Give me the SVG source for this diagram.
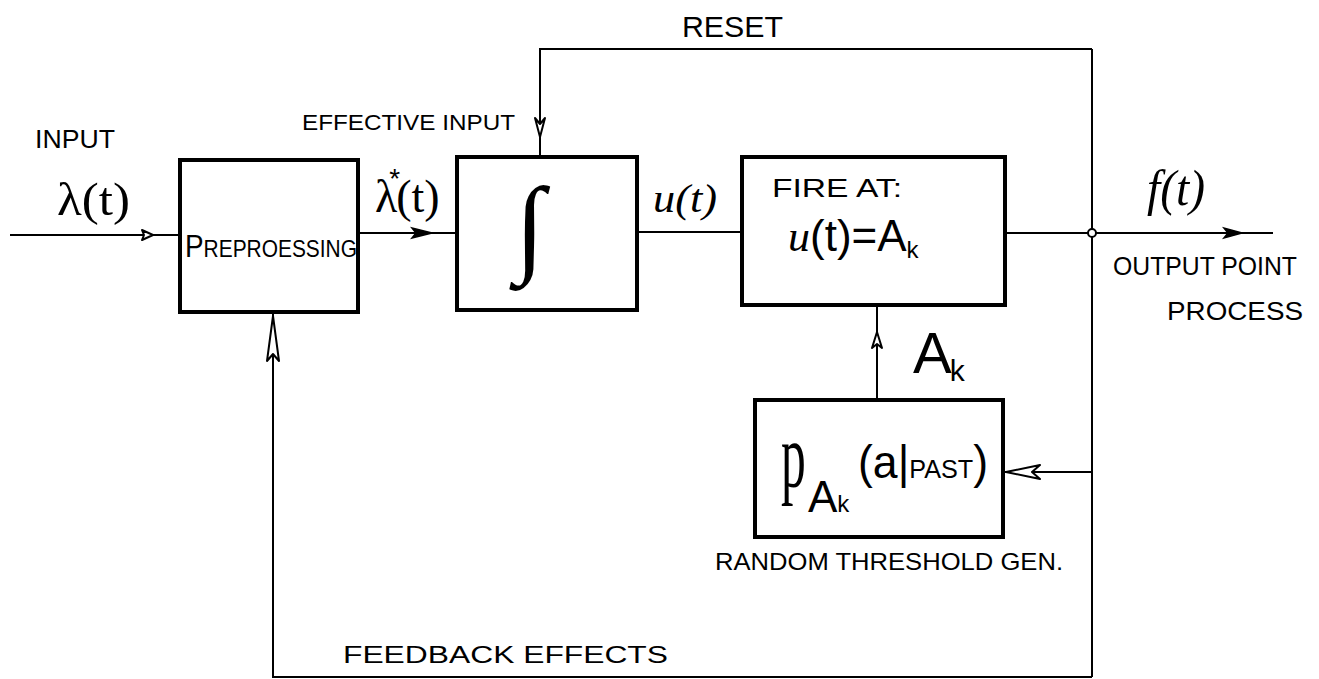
<svg xmlns="http://www.w3.org/2000/svg" width="1319" height="679" viewBox="0 0 1319 679">
<style>
.box{fill:none;stroke:#000;stroke-width:4}
.ln{fill:none;stroke:#000;stroke-width:2}
.ah{fill:#fff;stroke:#000;stroke-width:2;stroke-linejoin:round}
.ahf{fill:#000;stroke:#000;stroke-width:1.5}
text{font-family:"Liberation Sans","DejaVu Sans",sans-serif;fill:#000}
.math{font-family:"Liberation Serif","DejaVu Serif",serif}
.it{font-family:"Liberation Serif","DejaVu Serif",serif;font-style:italic}
.sans{font-family:"Liberation Sans","DejaVu Sans",sans-serif}
</style>
<rect width="1319" height="679" fill="#fff"/>

<g id="connectors">
  <line class="ln" x1="10" y1="235" x2="180" y2="235"/>
  <polygon class="ah" points="153,235 142,230 144,235 142,240"/>
  <line class="ln" x1="358" y1="233" x2="457" y2="233"/>
  <polygon class="ahf" points="432,233 412,228 416,233 412,238"/>
  <line class="ln" x1="637" y1="232" x2="742" y2="232"/>
  <line class="ln" x1="1005" y1="233" x2="1092" y2="233"/>
  <line class="ln" x1="1092" y1="233" x2="1273" y2="233"/>
  <polygon class="ahf" points="1242,233 1224,228 1228,233 1224,238"/>
  <line class="ln" x1="1092" y1="49" x2="1092" y2="677"/>
  <polyline class="ln" points="1092,49 540,49 540,157"/>
  <polygon class="ah" points="540,137 535,118 540,124 545,118"/>
  <polyline class="ln" points="1092,677 273,677 273,312"/>
  <polygon class="ah" points="273,316 267,361 273,354 279,361"/>
  <line class="ln" x1="1092" y1="472" x2="1003" y2="472"/>
  <polygon class="ah" points="1006,472 1040,465 1032,472 1040,479"/>
  <line class="ln" x1="877" y1="400" x2="877" y2="305"/>
  <polygon class="ah" points="877,332 872,348 877,344 882,348"/>
  <circle cx="1092" cy="233" r="4" fill="#fff" stroke="#000" stroke-width="2"/>
</g>

<g id="labels">
  <text x="35" y="148" font-size="26" textLength="80" lengthAdjust="spacingAndGlyphs">INPUT</text>
  <text class="math" x="57" y="215" font-size="46" textLength="73" lengthAdjust="spacingAndGlyphs">λ(t)</text>
  <text x="302" y="130" font-size="22" textLength="213" lengthAdjust="spacingAndGlyphs">EFFECTIVE INPUT</text>
  <text class="math" x="375" y="212" font-size="46">λ<tspan class="sans" font-size="28" dx="-8" dy="-24">*</tspan><tspan dx="-4" dy="24">(t)</tspan></text>
  <text x="682" y="37" font-size="30" textLength="101" lengthAdjust="spacingAndGlyphs">RESET</text>
  <text class="it" x="653" y="212" font-size="40" textLength="64" lengthAdjust="spacingAndGlyphs">u(t)</text>
  <text class="it" x="1147" y="205" font-size="50" textLength="58" lengthAdjust="spacingAndGlyphs">f(t)</text>
  <text x="1113" y="275" font-size="26" textLength="184" lengthAdjust="spacingAndGlyphs">OUTPUT POINT</text>
  <text x="1167" y="320" font-size="26" textLength="136" lengthAdjust="spacingAndGlyphs">PROCESS</text>
  <text x="913" y="373" font-size="58">A<tspan font-size="30" dx="-2" dy="8">k</tspan></text>
  <text x="715" y="570" font-size="24" textLength="348" lengthAdjust="spacingAndGlyphs">RANDOM THRESHOLD GEN.</text>
  <text x="343" y="663" font-size="24" textLength="325" lengthAdjust="spacingAndGlyphs">FEEDBACK EFFECTS</text>
</g>

<g id="preprocessing">
  <rect class="box" x="180" y="160" width="178" height="152"/>
  <text x="185" y="257" textLength="172" lengthAdjust="spacingAndGlyphs"><tspan font-size="32">P</tspan><tspan font-size="24">REPROESSING</tspan></text>
</g>

<g id="integrator">
  <rect class="box" x="457" y="157" width="180" height="153"/>
  <text class="math" x="530" y="262" font-size="108" text-anchor="middle">∫</text>
</g>

<g id="fire">
  <rect class="box" x="742" y="157" width="263" height="148"/>
  <text x="772" y="197" font-size="26" textLength="130" lengthAdjust="spacingAndGlyphs">FIRE AT:</text>
  <text x="788" y="251" font-size="44"><tspan class="it">u</tspan>(t)=A<tspan font-size="24" dy="7">k</tspan></text>
</g>

<g id="threshold">
  <rect class="box" x="755" y="400" width="248" height="137"/>
  <text class="math" x="0" y="0" font-size="90" transform="translate(781,487) scale(0.55,1)">p</text>
  <text x="808" y="512" font-size="44">A<tspan font-size="24">k</tspan></text>
  <text x="858" y="478" font-size="46" textLength="130" lengthAdjust="spacingAndGlyphs">(a|<tspan font-size="26">PAST</tspan>)</text>
</g>
</svg>
